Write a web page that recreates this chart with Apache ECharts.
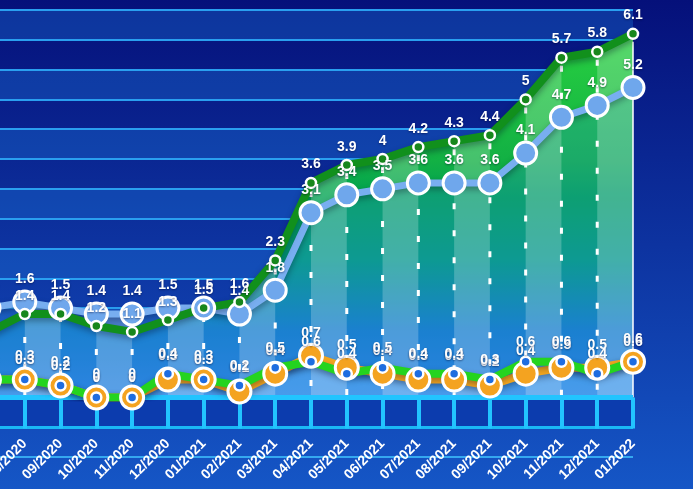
<!DOCTYPE html>
<html>
<head>
<meta charset="utf-8">
<script src="https://cdn.jsdelivr.net/npm/echarts@6/dist/echarts.min.js"></script>
<style>html,body{margin:0;padding:0;}#c{width:693px;height:489px;}</style>
</head>
<body>
<div id="c"></div>
<script>
const categories = ['07/2020','08/2020','09/2020','10/2020','11/2020','12/2020','01/2021','02/2021','03/2021','04/2021','05/2021','06/2021','07/2021','08/2021','09/2021','10/2021','11/2021','12/2021','01/2022'];
const greenValues  = [1.1,1.4,1.4,1.2,1.1,1.3,1.5,1.6,2.3,3.6,3.9,4.0,4.2,4.3,4.4,5.0,5.7,5.8,6.1];
const blueValues   = [1.5,1.6,1.5,1.4,1.4,1.5,1.5,1.4,1.8,3.1,3.4,3.5,3.6,3.6,3.6,4.1,4.7,4.9,5.2];
const orangeValues = [0.3,0.3,0.2,0,0,0.3,0.3,0.1,0.4,0.7,0.5,0.4,0.3,0.3,0.2,0.4,0.5,0.5,0.6];
const limeValues   = [0.3,0.3,0.2,0,0,0.4,0.3,0.2,0.5,0.6,0.4,0.5,0.4,0.4,0.3,0.6,0.6,0.4,0.6];
const yTicks = {min: 0, max: 6.5, interval: 0.5};

const topValues = greenValues.map((v, i) => Math.max(v, blueValues[i]));
const n = categories.length;

const chart = echarts.init(document.getElementById('c'));
const labelStyle = {
  show: true, position: 'top', color: '#ffffff', fontSize: 14, fontWeight: 'bold',
  fontFamily: 'Liberation Sans, Arial, sans-serif',
  textShadowColor: 'rgba(0,0,40,0.45)', textShadowBlur: 2, textShadowOffsetY: 1
};
function areaSeries(data, color, z) {
  return { type: 'line', data: data, symbol: 'none', z: z, silent: true,
    lineStyle: { width: 0 }, areaStyle: { color: color, opacity: 1 } };
}
function lineSeries(data, color, width) {
  return { type: 'line', data: data, symbol: 'none', z: 3, silent: true,
    lineStyle: { color: color, width: width, shadowColor: 'rgba(0,0,30,0.35)', shadowBlur: 6, shadowOffsetY: 3 } };
}
function dotSeries(data, size, fill, border, dist) {
  return { type: 'scatter', data: data, symbol: 'circle', symbolSize: size, z: 4,
    itemStyle: { color: fill, borderColor: '#ffffff', borderWidth: border, opacity: 1 },
    label: Object.assign({}, labelStyle, { distance: dist }) };
}
function bandAxis(offset, color, width, z) {
  return { type: 'category', data: categories, boundaryGap: false, position: 'bottom', offset: offset, z: z,
    axisLine: { show: true, lineStyle: { color: color, width: width, cap: 'butt' } },
    axisTick: { show: false }, axisLabel: { show: false }, splitLine: { show: false } };
}

const option = {
  animation: false,
  backgroundColor: { type: 'linear', x: 0, y: 0, x2: 0, y2: 1,
    colorStops: [{ offset: 0, color: '#05107a' }, { offset: 1, color: '#1556c6' }] },
  grid: { left: -11, right: 60, top: 10, bottom: 91.5, containLabel: false, outerBoundsMode: 'none' },
  xAxis: [
    { type: 'category', data: categories, boundaryGap: false, position: 'bottom', z: 3,
      axisLine: { lineStyle: { color: '#22c4ff', width: 5, cap: 'butt' } },
      axisTick: { show: true, interval: 0, length: 31, lineStyle: { color: '#22c4ff', width: 4 } },
      axisLabel: { interval: 0, rotate: 45, margin: 44, color: '#ffffff', fontSize: 14, fontWeight: 'bold',
        fontFamily: 'Liberation Sans, Arial, sans-serif' },
      splitLine: { show: false } },
    bandAxis(15, '#0c3cae', 30, 1),
    bandAxis(30, '#1ab8f5', 3, 2),
    bandAxis(59.5, '#35a8f0', 2, 1)
  ],
  yAxis: { type: 'value', min: yTicks.min, max: yTicks.max, interval: yTicks.interval,
    axisLine: { show: false }, axisTick: { show: false }, axisLabel: { show: false },
    splitLine: { lineStyle: { color: '#2a9ff0', width: 2 } },
    splitArea: { show: true, areaStyle: { color: ['rgba(30,120,220,0.35)', 'rgba(0,0,0,0)'] } } },
  series: [
    areaSeries(greenValues, { type: 'linear', x: 0, y: 0, x2: 0, y2: 1,
      colorStops: [{ offset: 0, color: '#28d040' }, { offset: 0.35, color: '#12b044' },
                   { offset: 0.45, color: '#00a252' }, { offset: 0.62, color: '#009b7a' },
                   { offset: 0.82, color: '#127aca' }, { offset: 1, color: '#2a80e0' }] }, 1),
    areaSeries(blueValues, 'rgba(60,150,230,0.22)', 1),
    areaSeries(orangeValues, 'rgba(120,195,255,0.2)', 1),
    areaSeries(limeValues, 'rgba(120,195,255,0.2)', 1),
    { type: 'custom', z: 2, silent: true,
      data: topValues.map((v, i) => [i, v]),
      encode: { x: 0, y: 1 },
      renderItem: function (params, api) {
        const i = params.dataIndex;
        const children = [];
        const top = api.coord([i, topValues[i]]);
        const bot = api.coord([i, 0]);
        if (i < n - 1) {
          const top2 = api.coord([i + 1, topValues[i + 1]]);
          const bot2 = api.coord([i + 1, 0]);
          children.push({ type: 'polygon', shape: { points: [top, top2, bot2, bot] },
            style: { fill: i % 2 === 1 ? 'rgba(255,255,255,0.22)' : 'rgba(0,0,0,0)' } });
        }
        children.push({ type: 'line', shape: { x1: top[0], y1: top[1] + 8, x2: bot[0], y2: bot[1] },
          style: { stroke: '#ffffff', lineWidth: i === n - 1 ? 1.5 : 3, lineDash: i === n - 1 ? null : [6, 21] } });
        return { type: 'group', children: children };
      } },
    lineSeries(blueValues, '#78aef0', 7),
    lineSeries(greenValues, '#11901c', 8),
    lineSeries(orangeValues, '#f2a51f', 8),
    lineSeries(limeValues, '#24d41f', 8),
    dotSeries(blueValues, 22, '#6fa7ec', 3, 3),
    dotSeries(greenValues, 10, '#17871c', 2.5, 5),
    dotSeries(orangeValues, 23, '#f4a320', 3, 3),
    dotSeries(limeValues, 10, '#1e6de0', 2.5, 6)
  ]
};
chart.setOption(option);
</script>
</body>
</html>
